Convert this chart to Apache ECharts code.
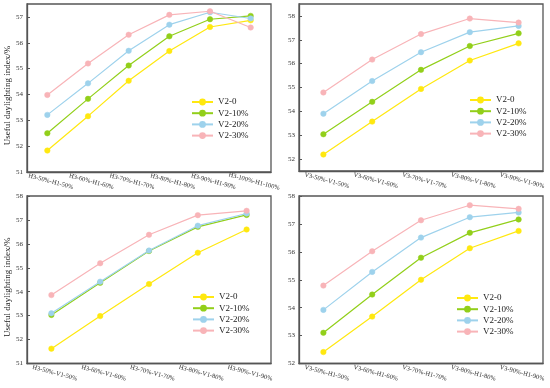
<!DOCTYPE html>
<html><head><meta charset="utf-8">
<script src="https://cdn.jsdelivr.net/npm/echarts@6/dist/echarts.min.js"></script>
<style>html,body{margin:0;padding:0;background:#fff}#c{width:550px;height:388px}</style>
</head><body><div id="c"></div>
<script>
const seriesNames = ['V2-0', 'V2-10%', 'V2-20%', 'V2-30%'];
const colors = ['#FFE810', '#92CF1A', '#9ED2EC', '#F8B4B8'];

const cats1 = ['H3-50%-H1-50%', 'H3-60%-H1-60%', 'H3-70%-H1-70%', 'H3-80%-H1-80%', 'H3-90%-H1-90%', 'H3-100%-H1-100%'];
const cats2 = ['V3-50%-V1-50%', 'V3-60%-V1-60%', 'V3-70%-V1-70%', 'V3-80%-V1-80%', 'V3-90%-V1-90%'];
const cats3 = ['H3-50%-V1-50%', 'H3-60%-V1-60%', 'H3-70%-V1-70%', 'H3-80%-V1-80%', 'H3-90%-V1-90%'];
const cats4 = ['V3-50%-H1-50%', 'V3-60%-H1-60%', 'V3-70%-H1-70%', 'V3-80%-H1-80%', 'V3-90%-H1-90%'];

// Panel 1 (top-left)
const p1_v0  = [51.83, 53.16, 54.53, 55.68, 56.61, 56.87];
const p1_v10 = [52.50, 53.83, 55.12, 56.25, 56.91, 57.04];
const p1_v20 = [53.21, 54.43, 55.69, 56.70, 57.18, 56.94];
const p1_v30 = [53.98, 55.20, 56.31, 57.08, 57.22, 56.59];
// Panel 2 (top-right)
const p2_v0  = [52.19, 53.57, 54.94, 56.13, 56.85];
const p2_v10 = [53.04, 54.40, 55.74, 56.74, 57.27];
const p2_v20 = [53.90, 55.27, 56.48, 57.32, 57.58];
const p2_v30 = [54.79, 56.17, 57.24, 57.89, 57.72];
// Panel 3 (bottom-left)
const p3_v0  = [51.62, 52.98, 54.32, 55.63, 56.60];
const p3_v10 = [53.03, 54.37, 55.70, 56.71, 57.21];
const p3_v20 = [53.10, 54.42, 55.72, 56.76, 57.27];
const p3_v30 = [53.86, 55.19, 56.38, 57.20, 57.38];
// Panel 4 (bottom-right)
const p4_v0  = [52.41, 53.68, 55.00, 56.13, 56.75];
const p4_v10 = [53.10, 54.47, 55.79, 56.68, 57.16];
const p4_v20 = [53.92, 55.28, 56.51, 57.24, 57.41];
const p4_v30 = [54.79, 56.02, 57.13, 57.67, 57.54];

// y ranges
const yMin = [51, 51.5, 51, 52];
const yMax = [57.5, 58.5, 58, 58];
const yTitle = 'Useful daylighting index/%';

const panels = [
  {cats: cats1, data: [p1_v0, p1_v10, p1_v20, p1_v30]},
  {cats: cats2, data: [p2_v0, p2_v10, p2_v20, p2_v30]},
  {cats: cats3, data: [p3_v0, p3_v10, p3_v20, p3_v30]},
  {cats: cats4, data: [p4_v0, p4_v10, p4_v20, p4_v30]}
];

const FONT = "'Liberation Serif', 'Times New Roman', serif";
const AX = '#555';
const grids = [
  {left: 27, top: 4, width: 244, height: 168},
  {left: 299, top: 4, width: 244, height: 167},
  {left: 27, top: 196, width: 244, height: 167.5},
  {left: 299, top: 196, width: 244, height: 167.5}
];
const legendPos = [
  {left: 191, top: 97},
  {left: 469, top: 95},
  {left: 192, top: 292},
  {left: 456, top: 293}
];

const option = {
  animation: false,
  backgroundColor: '#fff',
  grid: grids.map(g => Object.assign({show: true, borderColor: AX, borderWidth: 1.3, backgroundColor: 'transparent'}, g)),
  xAxis: panels.map((p, i) => ({
    type: 'category', gridIndex: i, data: p.cats, boundaryGap: true,
    axisLine: {lineStyle: {color: AX, width: 1.3}},
    axisTick: {inside: true, length: 3, alignWithLabel: true, lineStyle: {color: AX}},
    axisLabel: {rotate: -15, fontSize: 6.5, fontFamily: FONT, color: '#333', margin: 5, interval: 0, align: 'center', verticalAlign: 'top', padding: [0, 0, 0, 9]},
    splitLine: {show: false}
  })),
  yAxis: panels.map((p, i) => ({
    type: 'value', gridIndex: i, min: yMin[i], max: yMax[i], minInterval: 1, maxInterval: 1,
    axisLine: {show: true, lineStyle: {color: AX, width: 1.3}},
    axisTick: {show: true, inside: true, length: 3, lineStyle: {color: AX}},
    axisLabel: {fontSize: 7, fontFamily: FONT, color: '#333', margin: 4, showMinLabel: yMin[i] % 1 === 0, showMaxLabel: yMax[i] % 1 === 0},
    splitLine: {show: false},
    name: (i % 2 === 0) ? yTitle : '',
    nameLocation: 'middle', nameGap: 14,
    nameTextStyle: {fontSize: 9, fontFamily: FONT, color: '#222', padding: [0, 15, 0, 0]}
  })),
  legend: legendPos.map(lp => ({
    data: seriesNames, orient: 'vertical', left: lp.left, top: lp.top,
    itemWidth: 21, itemHeight: 6, itemGap: 1.2, padding: 0,
    textStyle: {fontSize: 9, fontFamily: FONT, color: '#222', lineHeight: 10}
  })),
  series: []
};

panels.forEach((p, i) => {
  p.data.forEach((d, k) => {
    option.series.push({
      type: 'line', name: seriesNames[k], xAxisIndex: i, yAxisIndex: i, data: d,
      symbol: 'circle', symbolSize: 5.5, color: colors[k],
      lineStyle: {width: 1.2, color: colors[k]},
      itemStyle: {color: colors[k], borderColor: colors[k], borderWidth: 0.5},
      emphasis: {disabled: true}, z: 2 + k
    });
  });
});

const chart = echarts.init(document.getElementById('c'), null, {renderer: 'canvas'});
chart.setOption(option);
</script>
</body></html>
